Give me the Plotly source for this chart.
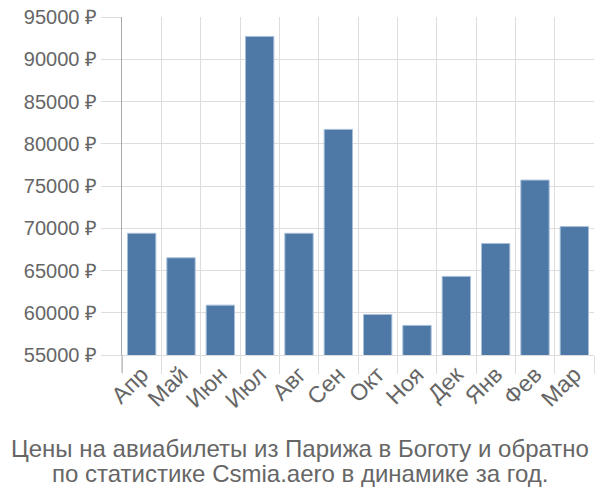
import plotly.graph_objects as go

months = ["Апр", "Май", "Июн", "Июл", "Авг", "Сен", "Окт", "Ноя", "Дек", "Янв", "Фев", "Мар"]
prices = [69400, 66500, 60900, 92700, 69400, 81700, 59800, 58500, 64300, 68200, 75700, 70200]
y_ticks = [55000, 60000, 65000, 70000, 75000, 80000, 85000, 90000, 95000]
title_lines = ["Цены на авиабилеты из Парижа в Боготу и обратно",
               "по статистике Csmia.aero в динамике за год."]

W, H = 600, 500
L, R, T, B = 122, 6, 14, 145

fig = go.Figure(go.Bar(
    x=months, y=prices,
    marker=dict(color="#4e79a7", line=dict(color="#a8bfd8", width=1)),
    width=0.72,
))

family = "Liberation Sans, Arial, sans-serif"
font = dict(family=family, size=20, color="#666666")
xfont = dict(family=family, size=23, color="#666666")
tfont = dict(family=family, size=24, color="#666666")

pw, ph = W - L - R, H - T - B
def px_x(x):
    return (x - L) / pw
def px_y(y):
    return (H - B - y) / ph

fig.update_layout(
    width=W, height=H,
    margin=dict(l=L, r=R, t=T, b=B),
    plot_bgcolor="white", paper_bgcolor="white",
    font=font,
    showlegend=False,
    xaxis=dict(
        type="category", tickson="boundaries",
        showgrid=True, gridcolor="#dddddd", gridwidth=1,
        ticks="outside", ticklen=18, tickcolor="#dddddd",
        tickangle=-45, tickfont=xfont, ticklabelstandoff=-4,
        showline=True, linecolor="#dddddd",
    ),
    yaxis=dict(
        range=[55000, 95000], tickvals=y_ticks,
        ticktext=[f"{v} ₽" for v in y_ticks],
        showgrid=True, gridcolor="#dddddd", gridwidth=1,
        ticks="outside", ticklen=20, tickcolor="#dddddd",
        tickfont=font,
        showline=True, linecolor="#aaaaaa",
        zeroline=False,
    ),
    shapes=[dict(type="line", xref="paper", yref="paper",
                 x0=0, x1=0, y0=0, y1=-18 / ph,
                 line=dict(color="#aaaaaa", width=1))],
    annotations=[
        dict(text=title_lines[0], x=px_x(300), xref="paper", xanchor="center",
             y=px_y(449), yref="paper", yanchor="middle",
             showarrow=False, font=tfont),
        dict(text=title_lines[1], x=px_x(300), xref="paper", xanchor="center",
             y=px_y(475), yref="paper", yanchor="middle",
             showarrow=False, font=tfont),
    ],
)
fig.write_html("out.html")
